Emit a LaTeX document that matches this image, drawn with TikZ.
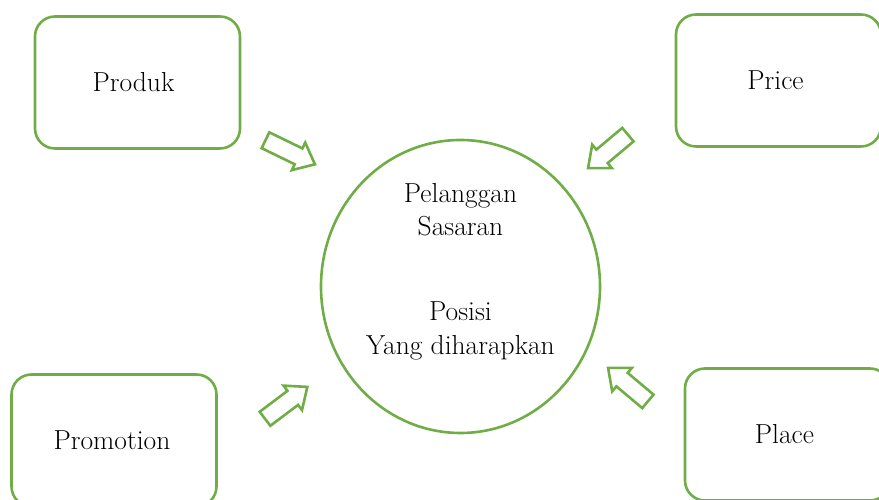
\documentclass[tikz,border=0pt]{standalone}
\usetikzlibrary{shapes.geometric,shapes.arrows}
\definecolor{grn}{HTML}{70AD47}
\tikzset{
  box/.style={draw=grn, line width=2.6pt, rounded corners=20pt, minimum width=205pt, minimum height=132pt, inner sep=0pt, font=\fontsize{27.5}{33}\selectfont},
  blockarrow/.style={draw=grn, line width=2.6pt, single arrow, inner sep=7.5pt, single arrow head extend=6.5pt, single arrow tip angle=80, minimum width=28pt},
  ctext/.style={align=center, font=\fontsize{27.5}{33.5}\selectfont, inner sep=0pt}
}
\begin{document}
\begin{tikzpicture}[x=1pt,y=1pt]
\useasboundingbox (0,0) rectangle (879,500);
\clip (0,0) rectangle (879,500);
\node[box] (produk) at (137.5,417.5) {\hspace*{-8pt}Produk};
\node[box] (price) at (778.5,419.5) {\hspace*{-6pt}Price};
\node[box] (promo) at (114,59.5) {\hspace*{-4pt}Promotion};
\node[box] (place) at (787.5,65.5) {\hspace*{-6pt}Place};
\node[draw=grn, line width=2.6pt, ellipse, minimum width=279pt, minimum height=293pt] (c) at (460.5,213.5) {};
\node[ctext] (t1) at (460.5,290.5) {Pelanggan\\Sasaran};
\node[ctext] (t2) at (460.5,169) {Posisi\\Yang diharapkan};
\node[blockarrow, minimum height=55pt, rotate=-26] (a1) at (285.5,350) {};
\node[blockarrow, minimum height=52pt, rotate=220] (a2) at (612,352) {};
\node[blockarrow, minimum height=53pt, rotate=37] (a3) at (282,94) {};
\node[blockarrow, minimum height=52pt, rotate=140] (a4) at (632,112) {};
\end{tikzpicture}
\end{document}
